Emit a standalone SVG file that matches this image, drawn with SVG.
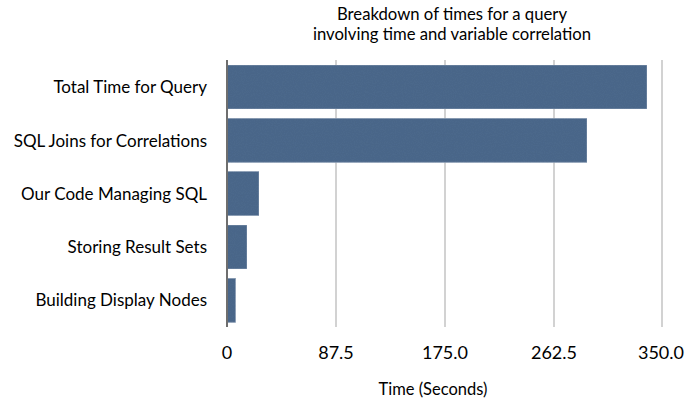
<svg xmlns="http://www.w3.org/2000/svg" width="699" height="407" viewBox="0 0 699 407">
  <style>
    text { font-family: Lato, "Open Sans", "Liberation Sans", sans-serif; fill: #000; }
    .title { font-size: 16.7px; text-anchor: middle; }
    .cat { font-size: 17px; text-anchor: end; }
    .tick { font-size: 18px; text-anchor: middle; }
    .axis-title { font-size: 16.5px; text-anchor: middle; }
    .grid { stroke: #b4b4b4; stroke-width: 1.2; }
    .axis { stroke: #6e6e6e; stroke-width: 2; }
    .bar { fill: #4e6a8e; stroke: #8fa2ba; stroke-width: 0.8; filter: url(#grain); }
  </style>
  <defs>
    <filter id="grain" x="0" y="0" width="100%" height="100%">
      <feTurbulence type="fractalNoise" baseFrequency="0.9" numOctaves="2" seed="3" result="noise"/>
      <feColorMatrix in="noise" type="matrix" values="0 0 0 0 0  0 0 0 0 0  0 0 0 0 0  0 0 0 0.12 0" result="dark"/>
      <feComposite in="dark" in2="SourceGraphic" operator="in" result="speck"/>
      <feMerge><feMergeNode in="SourceGraphic"/><feMergeNode in="speck"/></feMerge>
    </filter>
  </defs>

  <!-- title -->
  <text class="title" x="452" y="20">Breakdown of times for a query</text>
  <text class="title" x="452" y="40">involving time and variable correlation</text>

  <!-- vertical gridlines -->
  <g id="gridlines">
    <line class="grid" x1="336" y1="60" x2="336" y2="327"/>
    <line class="grid" x1="445" y1="60" x2="445" y2="327"/>
    <line class="grid" x1="554" y1="60" x2="554" y2="327"/>
    <line class="grid" x1="662" y1="60" x2="662" y2="327"/>
  </g>

  <!-- bars -->
  <g id="bar-total"><rect class="bar" x="227" y="65" width="420" height="44"/></g>
  <g id="bar-sql-joins"><rect class="bar" x="227" y="118.3" width="360" height="44"/></g>
  <g id="bar-our-code"><rect class="bar" x="227" y="171.6" width="32" height="44"/></g>
  <g id="bar-storing"><rect class="bar" x="227" y="225" width="20" height="44"/></g>
  <g id="bar-building"><rect class="bar" x="227" y="278.3" width="8.5" height="44"/></g>

  <!-- value axis -->
  <line class="axis" x1="227" y1="60" x2="227" y2="327"/>

  <!-- category labels -->
  <g id="labels">
    <text class="cat" x="207" y="93">Total Time for Query</text>
    <text class="cat" x="207" y="146.5">SQL Joins for Correlations</text>
    <text class="cat" x="207" y="199.5">Our Code Managing SQL</text>
    <text class="cat" x="207" y="253">Storing Result Sets</text>
    <text class="cat" x="207" y="306">Building Display Nodes</text>
  </g>

  <!-- tick labels -->
  <g id="ticks">
    <text class="tick" x="227" y="359">0</text>
    <text class="tick" x="336" y="359">87.5</text>
    <text class="tick" x="445" y="359">175.0</text>
    <text class="tick" x="554" y="359">262.5</text>
    <text class="tick" x="661" y="359">350.0</text>
  </g>

  <text class="axis-title" x="433" y="395">Time (Seconds)</text>
</svg>
